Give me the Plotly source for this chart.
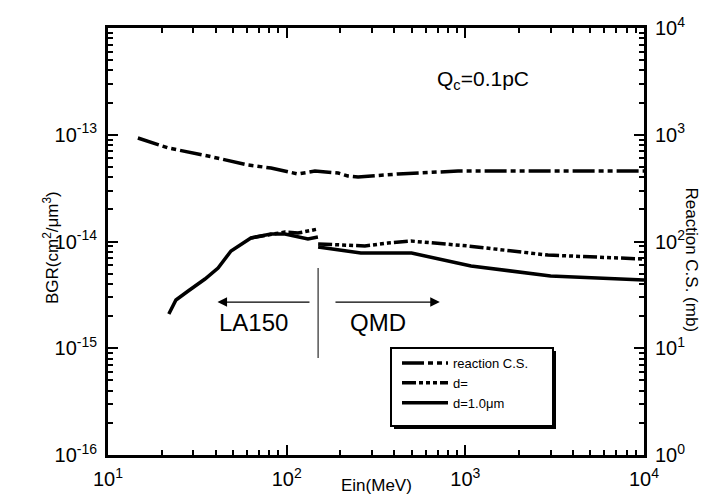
import math
import plotly.graph_objects as go

# ---- data ----
cs_energy = [14.7, 21.7, 36.3, 60.8, 81.7, 115.7, 144, 194, 220, 251, 420, 910, 2900, 10000]
cs_values = [933, 752, 632, 521, 488, 429, 457, 438, 411, 402, 429, 457, 457, 457]

d10_energy_la150 = [21.9, 24.0, 28.1, 34.9, 41.3, 48.8, 63.1, 81.7, 97.9, 120.3, 131.6, 149.6]
d10_bgr_la150 = [2.09e-15, 2.83e-15, 3.44e-15, 4.45e-15, 5.65e-15, 8.15e-15, 1.08e-14,
                 1.175e-14, 1.175e-14, 1.08e-14, 1.055e-14, 1.10e-14]
d10_energy_qmd = [150, 260, 500, 1076, 3000, 10000]
d10_bgr_qmd = [8.87e-15, 7.8e-15, 7.8e-15, 5.9e-15, 4.75e-15, 4.36e-15]

dx_energy_la150 = [63.1, 81.7, 97.9, 115.7, 131.6, 149.6]
dx_bgr_la150 = [1.08e-14, 1.175e-14, 1.227e-14, 1.2e-14, 1.25e-14, 1.31e-14]
dx_energy_qmd = [150, 274, 369, 496, 1035, 2900, 10000]
dx_bgr_qmd = [9.48e-15, 9.08e-15, 9.68e-15, 1.01e-14, 9.08e-15, 7.46e-15, 6.85e-15]

sep_energy = [150, 150]
sep_bgr = [8.1e-16, 5.65e-15]

x_tick_vals = [10, 100, 1000, 10000]
x_tick_text = ["10<sup>1</sup>", "10<sup>2</sup>", "10<sup>3</sup>", "10<sup>4</sup>"]
yl_tick_vals = [1e-16, 1e-15, 1e-14, 1e-13]
yl_tick_text = ["10<sup>-16</sup>", "10<sup>-15</sup>", "10<sup>-14</sup>", "10<sup>-13</sup>"]
yr_tick_vals = [1, 10, 100, 1000, 10000]
yr_tick_text = ["10<sup>0</sup>", "10<sup>1</sup>", "10<sup>2</sup>", "10<sup>3</sup>", "10<sup>4</sup>"]

x_minor = [m * 10 ** e for e in (1, 2, 3) for m in range(2, 10)]
yl_minor = [m * 10.0 ** e for e in (-16, -15, -14, -13) for m in range(2, 10)]
yr_minor = [m * 10 ** e for e in (0, 1, 2, 3) for m in range(2, 10)]

FONT = "Liberation Sans, Arial, sans-serif"

fig = go.Figure()

fig.add_trace(go.Scatter(
    x=cs_energy, y=cs_values, yaxis="y2", mode="lines", name="reaction C.S.",
    line=dict(color="black", width=3.5, dash="22px,4px,5px,4px,5px,4px"),
))
fig.add_trace(go.Scatter(
    x=dx_energy_la150 + [None] + dx_energy_qmd,
    y=dx_bgr_la150 + [None] + dx_bgr_qmd,
    mode="lines", name="d=", connectgaps=False,
    line=dict(color="black", width=3.5, dash="14px,3px,4px,3px,4px,3px,4px,3px"),
))
fig.add_trace(go.Scatter(
    x=d10_energy_la150 + [None] + d10_energy_qmd,
    y=d10_bgr_la150 + [None] + d10_bgr_qmd,
    mode="lines", name="d=1.0\u03bcm", connectgaps=False,
    line=dict(color="black", width=3.5),
))
fig.add_trace(go.Scatter(
    x=sep_energy, y=sep_bgr, mode="lines", showlegend=False,
    line=dict(color="#555555", width=1.5),
))

L = math.log10
arrow_y = L(2.71e-15)
annotations = [
    dict(x=L(41.0), y=arrow_y, ax=L(136.8), ay=arrow_y, xref="x", yref="y",
         axref="x", ayref="y", showarrow=True, arrowhead=2, arrowsize=1.6,
         arrowwidth=1.2, arrowcolor="black", text=""),
    dict(x=L(720), y=arrow_y, ax=L(184), ay=arrow_y, xref="x", yref="y",
         axref="x", ayref="y", showarrow=True, arrowhead=2, arrowsize=1.6,
         arrowwidth=1.2, arrowcolor="black", text=""),
    dict(x=L(65.6), y=L(1.73e-15), xref="x", yref="y", text="LA150", showarrow=False,
         font=dict(size=24, family=FONT, color="black")),
    dict(x=L(324), y=L(1.73e-15), xref="x", yref="y", text="QMD", showarrow=False,
         font=dict(size=24, family=FONT, color="black")),
    dict(x=L(1256), y=L(3.26e-13), xref="x", yref="y", text="Q<sub>c</sub>=0.1pC",
         showarrow=False, font=dict(size=21, family=FONT, color="black")),
    dict(x=30, y=240, xref="paper", yref="paper", text="BGR(cm<sup>2</sup>/\u03bcm<sup>3</sup>)",
         showarrow=False, textangle=-90, font=dict(size=17, family=FONT, color="black")),
    dict(x=694, y=252, xref="paper", yref="paper", text="Reaction C.S. (mb)",
         showarrow=False, textangle=90, font=dict(size=17, family=FONT, color="black")),
    dict(x=368, y=489, xref="paper", yref="paper", text="Ein(MeV)",
         showarrow=False, font=dict(size=17, family=FONT, color="black")),
]
W, H = 707, 498
ml, mr, mt, mb = 100, 71, 20, 51
pw, ph = W - ml - mr, H - mt - mb
for a in annotations[5:]:
    a["x"] = (a["x"] - ml) / pw
    a["y"] = (H - mb - a["y"]) / ph


def px_x(v):
    return (v - ml) / pw


def px_y(v):
    return (H - mb - v) / ph


shapes = [
    dict(type="rect", xref="paper", yref="paper", layer="above",
         x0=px_x(386), x1=px_x(548), y0=px_y(421), y1=px_y(343),
         fillcolor="black", line=dict(width=0)),
    dict(type="rect", xref="paper", yref="paper", layer="above",
         x0=px_x(383), x1=px_x(545), y0=px_y(418), y1=px_y(340),
         fillcolor="white", line=dict(color="black", width=2)),
    dict(type="line", xref="x", yref="y", layer="above",
         x0=L(47.5), x1=L(50.0), y0=L(8.1e-16), y1=L(8.1e-16),
         line=dict(color="black", width=1.5)),
]


def axis(rng, tv, tt, minor_vals, **kw):
    d = dict(
        type="log", range=rng, automargin=False, showgrid=False, zeroline=False,
        showline=True, linecolor="black", linewidth=3,
        ticks="inside", ticklen=10, tickwidth=2, tickcolor="black",
        tickmode="array", tickvals=tv, ticktext=tt, ticklabelstandoff=4,
        tickfont=dict(size=20, family=FONT, color="black"),
        minor=dict(ticks="inside", ticklen=5, tickwidth=2, tickcolor="black",
                   showgrid=False, tickmode="array", tickvals=minor_vals),
    )
    d.update(kw)
    return d


fig.update_layout(
    width=W, height=H,
    margin=dict(l=ml, r=mr, t=mt, b=mb, autoexpand=False),
    paper_bgcolor="white", plot_bgcolor="white",
    font=dict(family=FONT, color="black"),
    xaxis=axis([1, 4], x_tick_vals, x_tick_text, x_minor, mirror="ticks"),
    yaxis=axis([-16, -12], yl_tick_vals, yl_tick_text, yl_minor),
    yaxis2=axis([0, 4], yr_tick_vals, yr_tick_text, yr_minor, overlaying="y", side="right"),
    showlegend=True,
    legend=dict(x=px_x(389), y=px_y(340), xanchor="left", yanchor="top",
                bgcolor="rgba(0,0,0,0)", borderwidth=0,
                font=dict(size=13, family=FONT, color="black"),
                tracegroupgap=0, itemwidth=46),
    annotations=annotations,
    shapes=shapes,
)

fig.write_html("out.html")
